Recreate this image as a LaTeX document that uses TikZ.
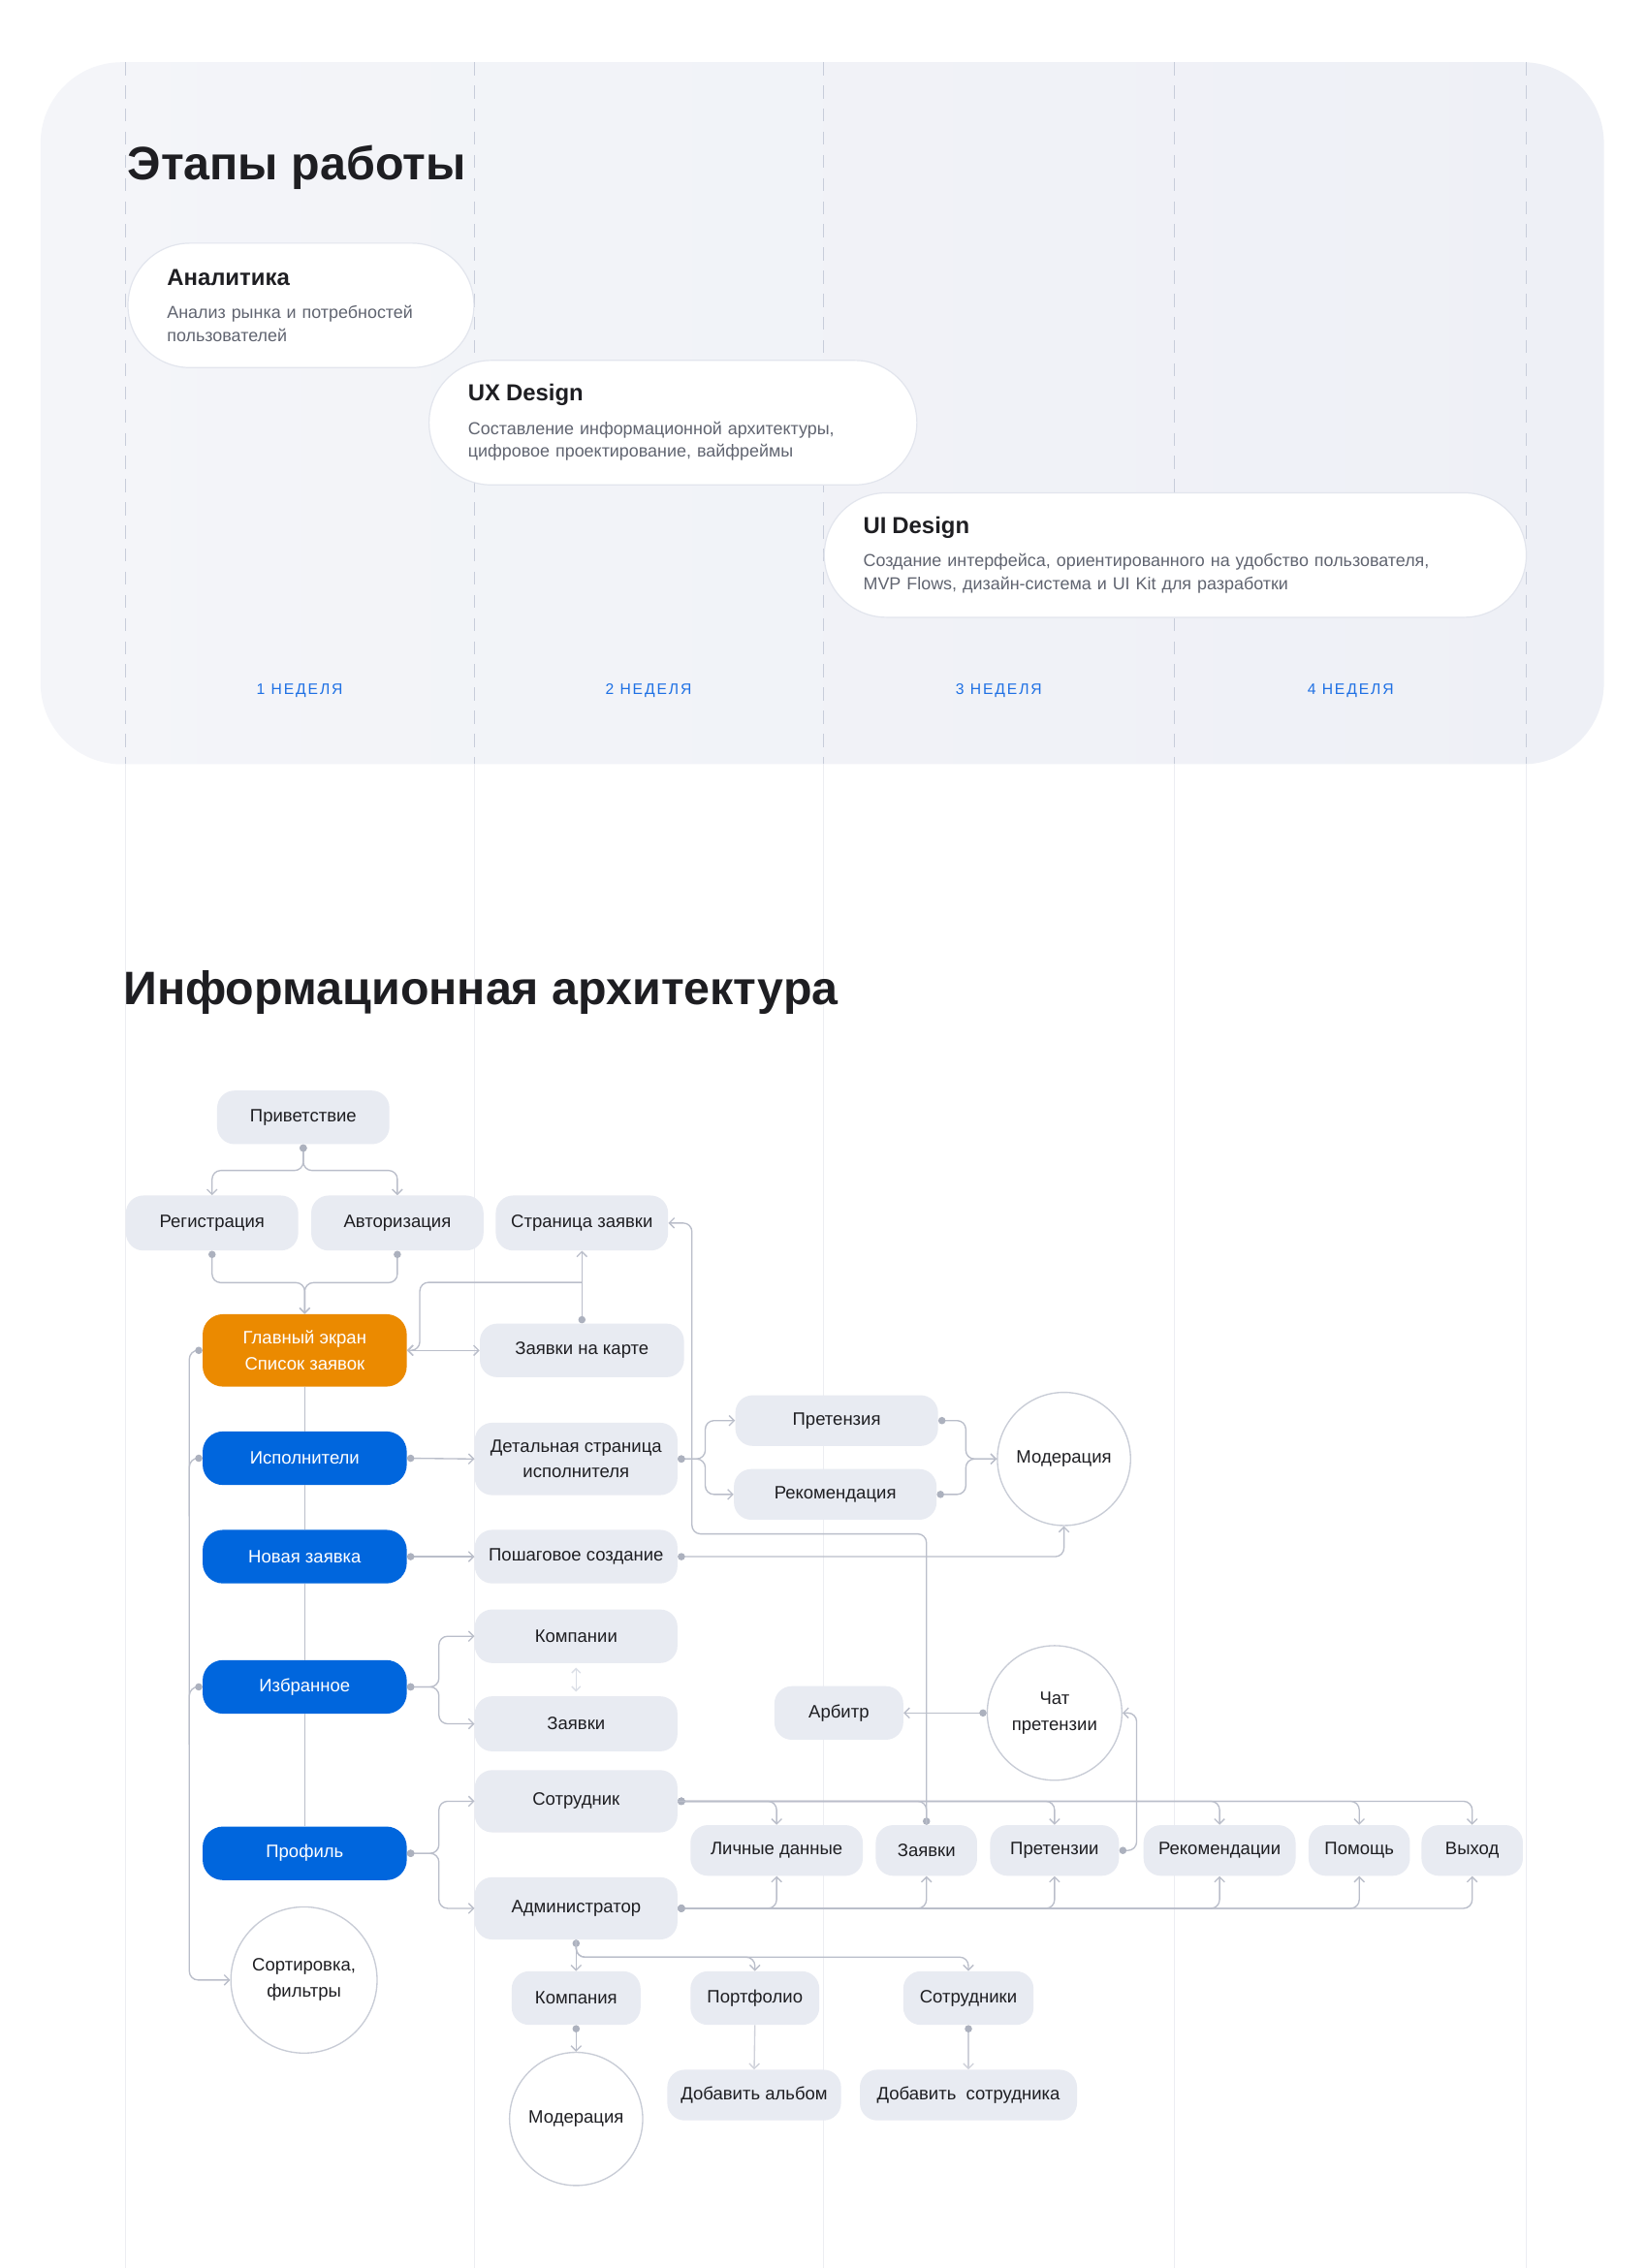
\documentclass[tikz,border=0pt]{standalone}
\usepackage{fontspec}
\setmainfont{Liberation Sans}
\usetikzlibrary{arrows.meta}

\definecolor{panelL}{RGB}{244,245,249}
\definecolor{panelR}{RGB}{238,240,246}
\definecolor{dashgray}{RGB}{200,205,218}
\definecolor{faintgray}{RGB}{236,237,242}
\definecolor{cardline}{RGB}{226,229,237}
\definecolor{ink}{RGB}{30,30,34}
\definecolor{descgray}{RGB}{96,100,112}
\definecolor{weekblue}{RGB}{30,112,228}
\definecolor{boxgray}{RGB}{232,235,242}
\definecolor{mainorange}{RGB}{235,138,0}
\definecolor{mainblue}{RGB}{0,102,221}
\definecolor{linkgray}{RGB}{186,190,202}
\definecolor{dotgray}{RGB}{172,177,190}
\definecolor{ringgray}{RGB}{200,204,214}

\newcommand{\boxfont}{\fontsize{12.4}{18}\selectfont}
\newcommand{\headfont}{\fontsize{32.4}{38}\selectfont\bfseries}
\newcommand{\cardtitle}{\fontsize{16}{20}\selectfont\bfseries}
\newcommand{\carddesc}{\fontsize{12}{16}\selectfont}

\begin{document}
\begin{tikzpicture}[x=1pt,y=-1pt,
		heading/.style={anchor=base west, inner sep=0pt, text=ink, font=\headfont},
		card/.style={fill=white, draw=cardline, line width=0.8pt, rounded corners=42.9pt,
			minimum height=86pt, text width=#1, inner xsep=27pt, inner ysep=0pt,
			align=left, anchor=west, text=descgray, font=\carddesc},
		week/.style={text=weekblue, font=\fontsize{10.5}{12}\selectfont\addfontfeatures{LetterSpace=12}},
		gbox/.style={fill=boxgray, rounded corners=12pt, minimum height=37pt, minimum width=#1,
			text=ink, font=\boxfont, align=center, inner sep=0pt},
		gbox/.default=140pt,
		cbox/.style={gbox=141pt, fill=#1, text=white, rounded corners=14pt},
		ring/.style={circle, draw=ringgray, line width=0.9pt, fill=white, minimum size=#1,
			text=ink, font=\boxfont, align=center, inner sep=0pt},
		link/.style={draw=linkgray, line width=0.9pt, rounded corners=6pt},
		arr/.style={link, -{Straight Barb[length=3.5pt,width=7pt]}},
		darr/.style={link, {Circle[length=5pt,color=dotgray]}-{Straight Barb[length=3.5pt,width=7pt]}},
		dline/.style={link, {Circle[length=5pt,color=dotgray]}-},
	]
	\useasboundingbox[fill=white] (0,0) rectangle (1137,1567);

	% panel and week columns
	\shade[left color=panelL, right color=panelR, rounded corners=56pt] (28,43) rectangle (1108,528);
	\foreach \x in {87,328,569,811,1054} {
		\draw[dashgray, line width=0.6pt, dash pattern=on 9pt off 7pt] (\x,43) -- (\x,528);
		\draw[faintgray, line width=0.6pt] (\x,528) -- (\x,1567);
	}

	\node[heading] (etapy) at (88,124) {Этапы работы};

	\node[card=185pt] (analit) at (88,211)
		{{\cardtitle\color{ink}Аналитика}\\[7pt]Анализ рынка и потребностей\\пользователей};
	\node[card=283pt] (uxdes) at (296,292)
		{{\cardtitle\color{ink}UX Design}\\[7pt]Составление информационной архитектуры,\\цифровое проектирование, вайфреймы};
	\node[card=431pt] (uides) at (569,383.5)
		{{\cardtitle\color{ink}UI Design}\\[7pt]Создание интерфейса, ориентированного на удобство пользователя,\\MVP Flows, дизайн-система и UI Kit для разработки};

	\node[week] (wk1) at (207,477) {1 НЕДЕЛЯ};
	\node[week] (wk2) at (448,477) {2 НЕДЕЛЯ};
	\node[week] (wk3) at (690,477) {3 НЕДЕЛЯ};
	\node[week] (wk4) at (933,477) {4 НЕДЕЛЯ};

	\node[heading] (arhit) at (85,694) {Информационная архитектура};

	% screens
	\node[gbox=119pt] (privet) at (209.5,772) {Приветствие};
	\node[gbox=119pt, minimum height=38pt] (reg) at (146.5,845) {Регистрация};
	\node[gbox=119pt, minimum height=38pt] (avt) at (274.5,845) {Авторизация};
	\node[gbox=119pt, minimum height=38pt] (stran) at (402,845) {Страница заявки};

	\node[cbox=mainorange, minimum height=50pt] (glav) at (210.5,933) {Главный экран\\Список заявок};
	\node[gbox=141pt] (karta) at (402,933) {Заявки на карте};

	\node[cbox=mainblue] (ispol) at (210.5,1007.5) {Исполнители};
	\node[gbox, minimum height=50pt] (detal) at (398,1008) {Детальная страница\\исполнителя};
	\node[gbox, minimum height=35pt] (pretenziya) at (578,981.5) {Претензия};
	\node[gbox, minimum height=35pt] (rekom) at (577,1032.5) {Рекомендация};
	\node[ring=92pt] (moder) at (735,1008) {Модерация};

	\node[cbox=mainblue] (novaya) at (210.5,1075.5) {Новая заявка};
	\node[gbox] (poshag) at (398,1075.5) {Пошаговое создание};

	\node[cbox=mainblue] (izbr) at (210.5,1165.5) {Избранное};
	\node[gbox] (komp) at (398,1130.5) {Компании};
	\node[gbox, minimum height=38pt] (zayavki) at (398,1191) {Заявки};
	\node[gbox=89pt] (arbitr) at (579.5,1183.5) {Арбитр};
	\node[ring=93pt] (chat) at (728.5,1183.5) {Чат\\претензии};

	\node[cbox=mainblue] (profil) at (210.5,1280.5) {Профиль};
	\node[gbox, minimum height=43pt] (sotr) at (398,1244.5) {Сотрудник};
	\node[gbox, minimum height=43pt] (admin) at (398,1318.5) {Администратор};
	\node[gbox=119pt, minimum height=35pt] (lichn) at (536.5,1278.5) {Личные данные};
	\node[gbox=70pt, minimum height=35pt] (zayv) at (640,1278.5) {Заявки};
	\node[gbox=89pt, minimum height=35pt] (pretenzii) at (728.5,1278.5) {Претензии};
	\node[gbox=105pt, minimum height=35pt] (rekomy) at (842.5,1278.5) {Рекомендации};
	\node[gbox=70pt, minimum height=35pt] (pomosch) at (939,1278.5) {Помощь};
	\node[gbox=70pt, minimum height=35pt] (vyhod) at (1017,1278.5) {Выход};

	\node[ring=101pt] (sort) at (210,1368) {Сортировка,\\фильтры};
	\node[gbox=89pt] (kompaniya) at (398,1380.5) {Компания};
	\node[gbox=89pt] (portf) at (521.5,1380.5) {Портфолио};
	\node[gbox=90pt] (sotrs) at (669,1380.5) {Сотрудники};
	\node[ring=92pt] (moderb) at (398,1464) {Модерация};
	\node[gbox=120pt, minimum height=35pt] (albom) at (521,1447.5) {Добавить альбом};
	\node[gbox=150pt, minimum height=35pt] (dobsotr) at (669,1447.5) {Добавить\ \ сотрудника};

	% connectors
	\draw[darr] (privet.south) -- ++(0,18) -| (reg.north);
	\draw[darr] (privet.south) -- ++(0,18) -| (avt.north);
	\draw[darr] (reg.south) -- ++(0,22) -| (glav.north);
	\draw[darr] (avt.south) -- ++(0,22) -| (glav.north);

	\draw[link, {Straight Barb[length=3.5pt,width=7pt]}-{Straight Barb[length=3.5pt,width=7pt]}] (glav.east) -- (karta.west);
	\draw[darr] (karta.north) -- (stran.south);
	\coordinate (kj) at (402,886);
	\draw[arr] (kj) -- ++(-112,0) |- (glav.east);
	\draw[darr] (zayv.north) -- ++(0,-201) -- ++(-162,0) |- (stran.east);

	\draw[darr] (glav.west) -- ++(-9,0) |- (sort.west);
	\draw[dline] (ispol.west) -- ++(-9,0) -- ++(0,40);
	\draw[dline] (izbr.west) -- ++(-9,0) -- ++(0,40);
	\draw[link] (glav.south) -- (ispol.north);
	\draw[link] (ispol.south) -- (novaya.north);
	\draw[link] (novaya.south) -- (izbr.north);
	\draw[link] (izbr.south) -- (profil.north);

	\draw[darr] (ispol.east) -- (detal.west);
	\draw[darr] (detal.east) -- ++(19,0) |- (pretenziya.west);
	\draw[darr] (detal.east) -- ++(19,0) |- (rekom.west);
	\draw[darr] (pretenziya.east) -- ++(19,0) |- (moder.west);
	\draw[darr] (rekom.east) -- ++(20,0) |- (moder.west);

	\draw[darr] (novaya.east) -- (poshag.west);
	\draw[darr] (poshag.east) -| (moder.south);

	\draw[darr] (izbr.east) -- ++(22,0) |- (komp.west);
	\draw[darr] (izbr.east) -- ++(22,0) |- (zayavki.west);
	\draw[link, draw=boxgray!70!linkgray, shorten <=3pt, shorten >=3pt, {Straight Barb[length=3pt,width=6pt]}-{Straight Barb[length=3pt,width=6pt]}] (komp.south) -- (zayavki.north);

	\draw[darr] (chat.west) -- (arbitr.east);
	\draw[darr] (pretenzii.east) -- ++(12,0) |- (chat.east);

	\draw[darr] (profil.east) -- ++(22,0) |- (sotr.west);
	\draw[darr] (profil.east) -- ++(22,0) |- (admin.west);
	\foreach \n in {lichn,pretenzii,rekomy,pomosch,vyhod}
		\draw[darr] (sotr.east) -| (\n.north);
	\draw[link] (sotr.east) -| (zayv.north);
	\foreach \n in {lichn,zayv,pretenzii,rekomy,pomosch,vyhod}
		\draw[darr] (admin.east) -| (\n.south);

	\draw[darr] (admin.south) -- (kompaniya.north);
	\draw[arr] (admin.south) -- ++(0,12) -| (portf.north);
	\draw[arr] (admin.south) -- ++(0,12) -| (sotrs.north);
	\draw[darr] (kompaniya.south) -- (moderb.north);
	\draw[arr, draw=linkgray!70] (portf.south) -- (albom.north);
	\draw[darr, draw=linkgray!70] (sotrs.south) -- (dobsotr.north);
\end{tikzpicture}
\end{document}
